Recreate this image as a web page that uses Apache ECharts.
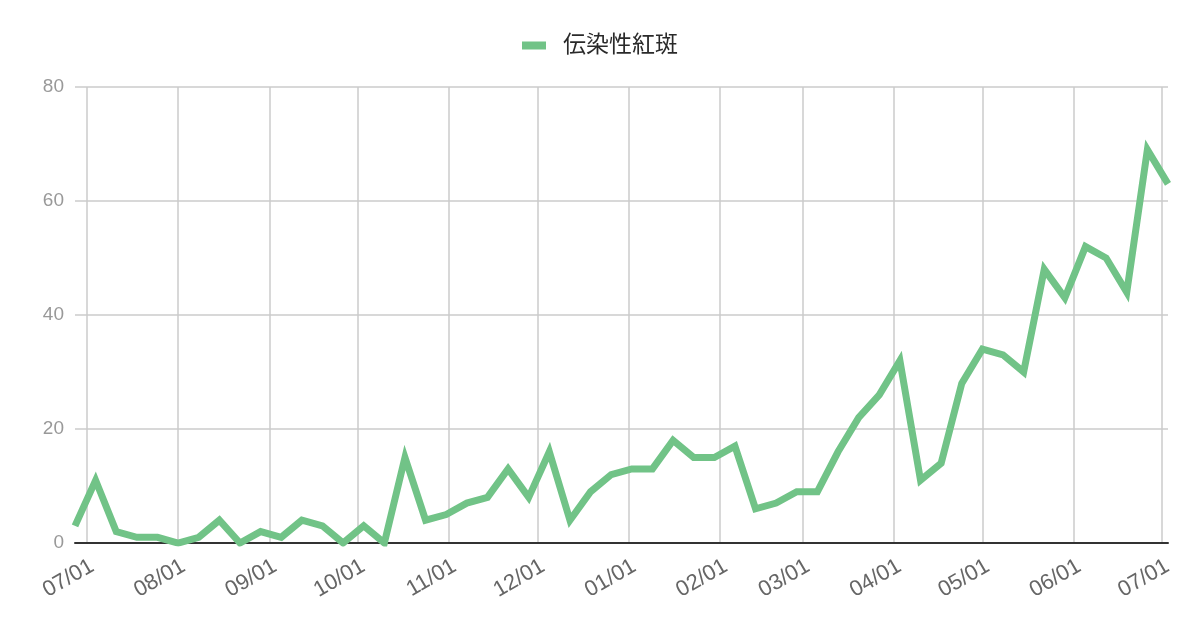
<!DOCTYPE html>
<html lang="ja">
<head>
<meta charset="utf-8">
<title>伝染性紅斑</title>
<script src="https://cdn.jsdelivr.net/npm/echarts@6/dist/echarts.min.js"></script>
<style>
    html, body { margin: 0; padding: 0; background: #fff; }
    #chart { width: 1200px; height: 626px; }
</style>
</head>
<body>
<div id="chart"></div>
<script>
    // 週ごとの報告日
    var weeks = [
        '2024-06-27', '2024-07-04', '2024-07-11', '2024-07-18', '2024-07-25',
        '2024-08-01', '2024-08-08', '2024-08-15', '2024-08-22', '2024-08-29',
        '2024-09-05', '2024-09-12', '2024-09-19', '2024-09-26', '2024-10-03',
        '2024-10-10', '2024-10-17', '2024-10-24', '2024-10-31', '2024-11-07',
        '2024-11-14', '2024-11-21', '2024-11-28', '2024-12-05', '2024-12-12',
        '2024-12-19', '2024-12-26', '2025-01-02', '2025-01-09', '2025-01-16',
        '2025-01-23', '2025-01-30', '2025-02-06', '2025-02-13', '2025-02-20',
        '2025-02-27', '2025-03-06', '2025-03-13', '2025-03-20', '2025-03-27',
        '2025-04-03', '2025-04-10', '2025-04-17', '2025-04-24', '2025-05-01',
        '2025-05-08', '2025-05-15', '2025-05-22', '2025-05-29', '2025-06-05',
        '2025-06-12', '2025-06-19', '2025-06-26', '2025-07-03'
    ];

    // 報告数
    var cases = [
        3, 11, 2, 1, 1, 0, 1, 4, 0, 2,
        1, 4, 3, 0, 3, 0, 15, 4, 5, 7,
        8, 13, 8, 16, 4, 9, 12, 13, 13, 18,
        15, 15, 17, 6, 7, 9, 9, 16, 22, 26,
        32, 11, 14, 28, 34, 33, 30, 48, 43, 52,
        50, 44, 69, 63
    ];

    var seriesName = '伝染性紅斑';
    var yTicks = { min: 0, max: 80, interval: 20 };

    var points = weeks.map(function (d, i) {
        return [d, cases[i]];
    });

    var font = '"Liberation Sans", "Noto Sans CJK JP", sans-serif';

    var myChart = echarts.init(document.getElementById('chart'));
    myChart.setOption({
        backgroundColor: '#fff',
        animation: false,
        textStyle: { fontFamily: font },
        legend: {
            top: 29,
            left: 'center',
            icon: 'rect',
            itemWidth: 24,
            itemHeight: 8,
            textStyle: {
                fontSize: 23,
                color: '#2a2a2a',
                padding: [0, 0, 0, 12]
            },
            data: [seriesName]
        },
        grid: {
            left: 75,
            right: 32,
            top: 87,
            bottom: 83,
            containLabel: false
        },
        xAxis: {
            type: 'time',
            min: new Date(weeks[0]).getTime(),
            max: new Date(weeks[weeks.length - 1]).getTime(),
            splitNumber: 12,
            axisLine: { lineStyle: { color: '#333', width: 2 } },
            axisTick: { show: false },
            splitLine: {
                show: true,
                showMinLine: false,
                showMaxLine: false,
                lineStyle: { color: '#cbcbcb', width: 1.5 }
            },
            axisLabel: {
                rotate: 30,
                fontSize: 22,
                color: '#666',
                margin: 12,
                verticalAlign: 'top',
                showMinLabel: false,
                showMaxLabel: false,
                formatter: function (v) {
                    return echarts.time.format(v, '{MM}/{dd}', false);
                }
            }
        },
        yAxis: {
            type: 'value',
            min: yTicks.min,
            max: yTicks.max,
            interval: yTicks.interval,
            axisLine: { show: false },
            axisTick: { show: false },
            splitLine: { lineStyle: { color: '#cbcbcb', width: 1.5 } },
            axisLabel: {
                fontSize: 19,
                color: '#999',
                margin: 11
            }
        },
        series: [
            {
                name: seriesName,
                type: 'line',
                data: points,
                showSymbol: false,
                symbol: 'none',
                color: '#71c387',
                lineStyle: {
                    width: 7,
                    color: '#71c387',
                    join: 'miter',
                    miterLimit: 10
                }
            }
        ]
    });
</script>
</body>
</html>
